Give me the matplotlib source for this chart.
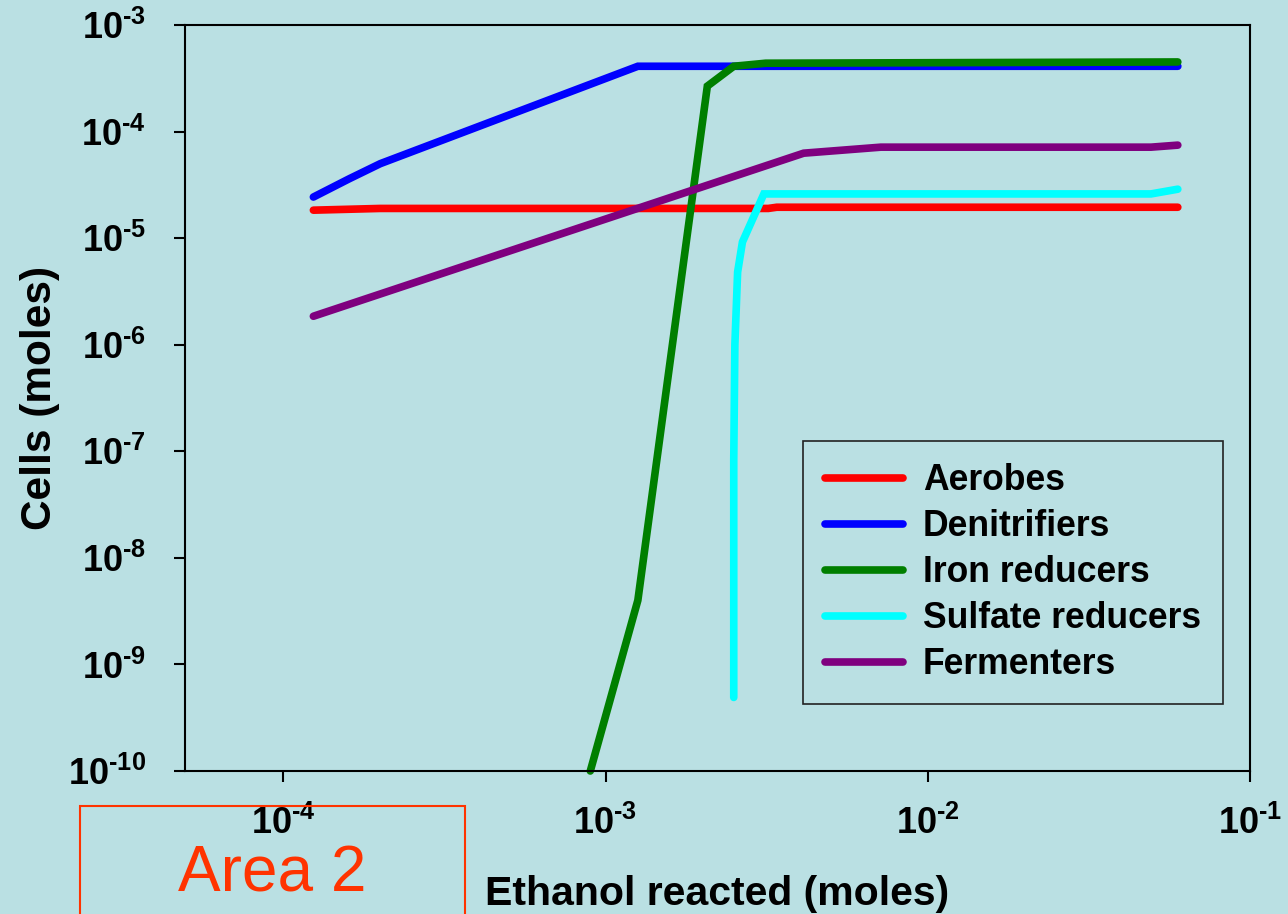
import math

import matplotlib
matplotlib.use("Agg")
import matplotlib.pyplot as plt
from matplotlib.patches import Rectangle
from matplotlib.ticker import FixedLocator, FuncFormatter, NullLocator

plt.rcParams['font.family'] = ['Liberation Sans', 'DejaVu Sans']
plt.rcParams['font.weight'] = 'bold'
plt.rcParams['mathtext.fontset'] = 'custom'
plt.rcParams['mathtext.rm'] = 'Liberation Sans:bold'
plt.rcParams['mathtext.bf'] = 'Liberation Sans:bold'
plt.rcParams['mathtext.it'] = 'Liberation Sans:bold'

bg = '#BAE0E3'

# data
series_names = ["Aerobes", "Denitrifiers", "Iron reducers", "Sulfate reducers", "Fermenters"]
series_colors = ["#FF0000", "#0000FF", "#007F00", "#00FFFF", "#7F007F"]

aerobes_x = [1.24e-4, 2.0e-4, 3.2e-3, 3.4e-3, 0.0597]
aerobes_y = [1.83e-5, 1.9e-5, 1.9e-5, 1.95e-5, 1.95e-5]

denitr_x = [1.24e-4, 1.6e-4, 2.0e-4, 1.26e-3, 0.0597]
denitr_y = [2.43e-5, 3.6e-5, 5.0e-5, 4.1e-4, 4.1e-4]

iron_x = [8.97e-4, 1.26e-3, 2.07e-3, 2.5e-3, 3.14e-3, 0.0597]
iron_y = [1.0e-10, 4.0e-9, 2.67e-4, 4.1e-4, 4.38e-4, 4.5e-4]

sulfate_x = [2.5e-3, 2.5e-3, 2.52e-3, 2.57e-3, 2.66e-3, 3.1e-3, 0.0493, 0.0597]
sulfate_y = [4.9e-10, 8.3e-8, 1.0e-6, 4.8e-6, 9.2e-6, 2.6e-5, 2.6e-5, 2.88e-5]

ferm_x = [1.24e-4, 4.12e-3, 7.15e-3, 0.0493, 0.0597]
ferm_y = [1.85e-6, 6.27e-5, 7.14e-5, 7.14e-5, 7.46e-5]

x_ticks = [1e-4, 1e-3, 1e-2, 1e-1]
y_ticks = [1e-10, 1e-9, 1e-8, 1e-7, 1e-6, 1e-5, 1e-4, 1e-3]


def pow_label(v, pos):
    e = round(math.log10(v))
    return r'$\mathbf{10^{%s}}$' % str(e).replace('-', '\u2010')


fig = plt.figure(figsize=(12.88, 9.14), dpi=100, facecolor=bg)
ax = fig.add_axes([185/1288, 1-771/914, (1250-185)/1288, (771-25)/914])
ax.set_facecolor(bg)

all_x = [aerobes_x, denitr_x, iron_x, sulfate_x, ferm_x]
all_y = [aerobes_y, denitr_y, iron_y, sulfate_y, ferm_y]
for xs, ys, name, c in zip(all_x, all_y, series_names, series_colors):
    ax.plot(xs, ys, color=c, lw=5.5, label=name, solid_capstyle='round',
            solid_joinstyle='miter', clip_on=False)

ax.set_xscale('log')
ax.set_yscale('log')
ax.set_xlim(10**-4.305, 1e-1)
ax.set_ylim(1e-10, 1e-3)

fmt = FuncFormatter(pow_label)
ax.xaxis.set_major_locator(FixedLocator(x_ticks))
ax.yaxis.set_major_locator(FixedLocator(y_ticks))
ax.xaxis.set_minor_locator(NullLocator())
ax.yaxis.set_minor_locator(NullLocator())
ax.xaxis.set_major_formatter(fmt)
ax.yaxis.set_major_formatter(fmt)
ax.tick_params(axis='both', direction='out', length=8, width=1.5, colors='black', labelsize=26)
ax.tick_params(axis='x', pad=17)
ax.tick_params(axis='y', pad=20)
for s in ax.spines.values():
    s.set_linewidth(1.5)

ax.set_xlabel("Ethanol reacted (moles)", fontsize=29.5, fontweight='bold', labelpad=24)
ax.set_ylabel("Cells (moles)", fontsize=30.5, fontweight='bold', labelpad=6)

leg = ax.legend(loc='upper left', bbox_to_anchor=(803/1288, 1-441/914),
                bbox_transform=fig.transFigure, fontsize=25.6, frameon=True,
                fancybox=False, edgecolor='#222222', facecolor=bg, framealpha=1,
                handlelength=2.2, handletextpad=0.55, labelspacing=0.31,
                borderpad=0.62, borderaxespad=0)
leg.get_frame().set_linewidth(1.2)
for t in leg.get_texts():
    t.set_fontweight('bold')

# "Area 2" box at the bottom left
fig.patches.append(Rectangle((80/1288, -0.1), (465-80)/1288, 0.1 + 1-806/914,
                             transform=fig.transFigure, fill=False,
                             edgecolor='#FF3300', lw=1.5))
fig.text(272/1288, 1-874/914, "Area 2", color='#FF3300', fontsize=46,
         fontweight='normal', ha='center', va='center')

fig.savefig("out.png", dpi=100, facecolor=bg)
